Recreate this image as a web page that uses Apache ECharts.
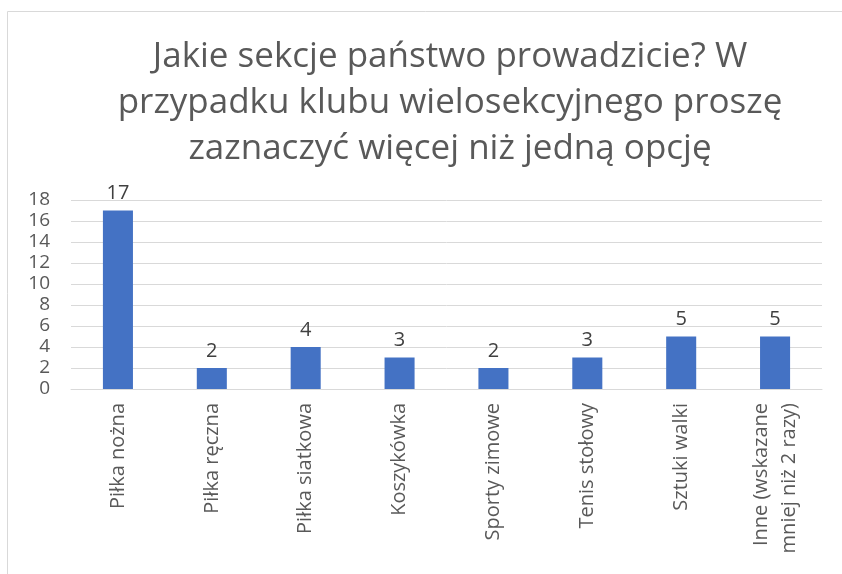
<!DOCTYPE html>
<html>
<head>
<meta charset="utf-8">
<script src="https://cdn.jsdelivr.net/npm/echarts@6/dist/echarts.min.js"></script>
<style>
	html, body { margin: 0; padding: 0; background: #fff; }
	#chart { width: 842px; height: 574px; }
</style>
</head>
<body>
<div id="chart"></div>
<script>
	var titleText = 'Jakie sekcje państwo prowadzicie? W\nprzypadku klubu wielosekcyjnego proszę\nzaznaczyć więcej niż jedną opcję';
	var categories = ['Piłka nożna', 'Piłka ręczna', 'Piłka siatkowa', 'Koszykówka', 'Sporty zimowe', 'Tenis stołowy', 'Sztuki walki', 'Inne (wskazane\nmniej niż 2 razy)'];
	var counts = [17, 2, 4, 3, 2, 3, 5, 5];

	var chart = echarts.init(document.getElementById('chart'));
	var font = '"Open Sans", "Noto Sans", sans-serif';

	var option = {
		animation: false,
		textStyle: { fontFamily: font },
		graphic: [{
			type: 'rect',
			z: -1,
			shape: { x: 7.5, y: 11.5, width: 900, height: 700 },
			style: { fill: 'none', stroke: '#d9d9d9', lineWidth: 1 }
		}],
		title: {
			text: titleText,
			left: 445,
			textAlign: 'center',
			top: 29,
			textStyle: {
				fontFamily: font,
				fontSize: 35,
				fontWeight: 'normal',
				color: '#595959',
				lineHeight: 46
			}
		},
		grid: {
			left: 71,
			right: 20,
			top: 200,
			bottom: 185
		},
		xAxis: {
			type: 'category',
			data: categories,
			axisLine: { lineStyle: { color: '#d9d9d9' } },
			axisTick: { show: false },
			axisLabel: {
				rotate: 90,
				interval: 0,
				margin: 14,
				fontSize: 20,
				lineHeight: 28,
				color: '#595959'
			}
		},
		yAxis: {
			type: 'value',
			min: 0,
			max: 18,
			interval: 2,
			axisLine: { show: false },
			axisTick: { show: false },
			splitLine: { lineStyle: { color: '#d9d9d9' } },
			axisLabel: {
				margin: 21,
				fontSize: 19,
				color: '#595959'
			}
		},
		series: [{
			type: 'bar',
			data: counts,
			barWidth: '32%',
			itemStyle: { color: '#4472c4' },
			label: {
				show: true,
				position: 'top',
				distance: 7,
				fontSize: 20,
				color: '#404040'
			}
		}]
	};
	chart.setOption(option);
</script>
</body>
</html>
